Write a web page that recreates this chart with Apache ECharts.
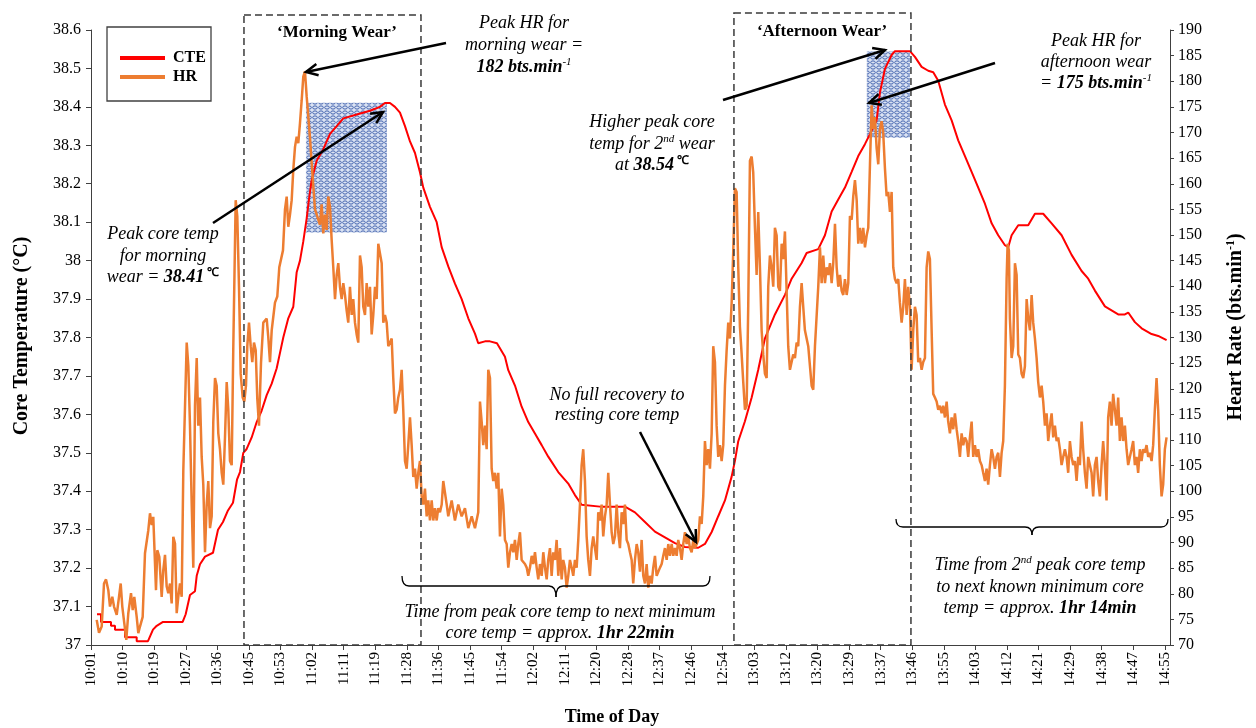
<!DOCTYPE html>
<html><head><meta charset="utf-8">
<script src="https://cdn.jsdelivr.net/npm/echarts@6/dist/echarts.min.js"></script>
<style>html,body{margin:0;padding:0;background:#fff}#c{width:1256px;height:728px}</style>
</head><body><div id="c"></div>
<script>
// ---------- DATA ----------
const tickLabels = ['10:01','10:10','10:19','10:27','10:36','10:45','10:53','11:02','11:11','11:19','11:28','11:36','11:45','11:54','12:02','12:11','12:20','12:28','12:37','12:46','12:54','13:03','13:12','13:20','13:29','13:37','13:46','13:55','14:03','14:12','14:21','14:29','14:38','14:47','14:55'];
// time in minutes after 10:01
const cteTime = [1.64,2.74,2.74,5.47,5.47,6.57,6.57,9.31,9.31,12.51,12.51,15.6,16.97,17.99,19.71,25.1,25.92,27.1,28.47,28.94,29.84,31.21,33.4,34.77,36.13,37.5,38.87,39.97,40.79,41.69,42.62,43.99,45.36,46.73,48.1,49.47,50.84,51.74,52.64,54.01,55.38,56.31,57.21,58.12,59.05,59.68,60.42,61.79,63.59,65.43,67.26,69.07,72.74,76.38,79.11,80.48,81.85,83.22,84.59,85.96,87.33,88.7,90.06,90.97,92.8,94.64,96.0,97.81,99.64,101.48,103.29,105.12,106.02,107.86,109.23,111.14,113.33,114.24,116.07,117.9,119.71,121.54,123.38,125.18,127.92,130.66,132.49,134.33,139.34,146.18,148.92,151.66,154.39,157.13,159.87,162.61,166.25,168.08,169.92,171.72,173.56,175.39,176.29,177.2,179.03,180.87,182.67,184.51,187.24,189.98,191.82,194.55,195.92,199.1,200.93,202.77,204.57,206.41,208.24,210.05,211.88,213.25,215.08,215.99,217.36,219.19,220.09,224.2,225.57,227.4,229.21,230.58,231.95,233.78,235.62,237.42,239.26,241.09,242.9,244.73,246.57,248.37,250.21,251.11,252.04,253.85,256.58,258.42,260.69,262.99,265.73,268.46,271.2,273.01,274.84,277.58,281.22,283.05,283.96,285.79,287.63,290.36,292.17,294.47];
const cteValue = [37.08,37.08,37.06,37.06,37.05,37.05,37.04,37.04,37.02,37.02,37.01,37.01,37.04,37.05,37.06,37.06,37.08,37.13,37.14,37.18,37.21,37.23,37.24,37.30,37.32,37.35,37.37,37.43,37.45,37.50,37.51,37.54,37.58,37.61,37.65,37.68,37.72,37.76,37.80,37.85,37.88,37.97,38.00,38.05,38.11,38.16,38.21,38.26,38.29,38.33,38.35,38.37,38.38,38.39,38.40,38.41,38.41,38.40,38.385,38.35,38.31,38.28,38.23,38.19,38.14,38.10,38.035,37.985,37.94,37.90,37.85,37.81,37.785,37.79,37.79,37.785,37.75,37.715,37.675,37.62,37.58,37.55,37.52,37.49,37.45,37.42,37.39,37.365,37.36,37.36,37.345,37.32,37.295,37.28,37.265,37.255,37.253,37.263,37.294,37.335,37.376,37.438,37.479,37.53,37.582,37.644,37.716,37.798,37.86,37.911,37.953,37.994,38.02,38.03,38.066,38.128,38.159,38.19,38.231,38.272,38.303,38.329,38.365,38.437,38.499,38.535,38.545,38.545,38.53,38.504,38.494,38.49,38.468,38.406,38.365,38.313,38.272,38.231,38.19,38.148,38.097,38.066,38.04,38.035,38.066,38.092,38.092,38.122,38.122,38.097,38.066,38.015,37.973,37.953,37.922,37.881,37.86,37.86,37.865,37.84,37.824,37.809,37.804,37.793];
const hrTime = [1.56,2.19,2.93,3.56,4.11,4.74,5.20,5.83,6.30,7.04,7.67,8.13,8.57,9.12,9.66,10.21,10.95,11.42,11.85,12.51,12.95,13.41,14.15,14.78,15.25,15.69,16.15,16.62,17.05,17.79,18.15,18.70,19.35,19.79,20.26,20.72,21.16,21.63,22.09,22.53,23.00,23.46,23.90,24.36,24.83,25.27,
26.20,26.65,27.10,27.57,28.01,28.47,28.94,29.37,29.84,30.30,30.74,31.21,31.67,32.11,32.58,33.04,33.48,33.95,34.41,34.85,35.31,35.78,36.22,36.68,37.15,37.59,38.05,38.52,38.96,39.61,40.05,40.52,40.98,41.53,41.97,42.43,42.79,43.25,43.72,44.16,44.62,45.09,45.53,45.99,46.54,47.17,48.10,48.54,49.00,49.47,49.90,50.37,51.00,51.55,52.01,52.56,53.11,53.57,54.01,54.48,54.94,55.38,55.85,56.31,56.75,57.21,57.68,58.12,58.58,59.05,59.49,59.95,60.42,60.85,61.32,61.79,62.22,62.69,63.15,63.59,64.06,64.52,64.96,65.43,65.89,66.33,66.80,67.26,67.70,68.16,68.63,69.07,69.53,70.00,70.43,70.90,71.37,71.80,72.27,72.73,73.17,73.64,74.10,74.54,75.01,75.47,75.91,76.38,76.84,77.28,77.75,78.21,78.65,79.11,79.58,80.02,80.48,80.95,81.39,81.85,82.32,82.75,83.22,83.68,84.12,84.59,85.05,85.49,85.96,86.42,86.86,87.33,87.79,88.23,88.70,89.16,89.60,90.06,90.53,90.97,91.43,91.90,92.34,92.80,93.27,93.71,94.17,94.64,95.07,95.54,96.01,96.44,96.91,97.38,97.81,
98.74,99.64,100.55,101.48,102.38,103.29,104.22,105.12,106.02,106.49,106.95,107.39,107.86,108.32,108.76,109.23,109.69,110.13,110.60,111.06,111.50,111.96,112.43,112.87,113.33,113.80,114.24,114.70,115.17,115.60,116.07,116.54,116.97,117.44,117.90,118.81,119.28,119.71,120.18,120.65,121.08,121.55,122.01,122.45,122.91,123.38,123.82,124.28,124.75,125.18,125.65,126.11,126.55,127.02,127.48,127.92,128.39,128.85,129.29,129.75,130.22,130.66,131.12,131.59,132.03,132.49,132.96,133.40,133.86,134.32,134.76,135.23,135.69,136.13,136.60,137.06,137.50,137.97,138.43,138.87,139.34,139.80,140.24,140.71,141.17,141.61,142.08,142.54,142.98,143.45,143.91,144.35,144.81,145.28,145.72,146.18,146.65,147.09,147.55,148.02,148.45,148.92,149.39,149.82,150.29,150.75,151.19,151.66,152.12,152.56,153.03,153.49,153.93,154.40,154.86,155.30,155.77,156.23,156.67,157.13,157.60,158.04,158.50,158.97,159.41,159.87,160.34,160.77,161.24,161.70,162.14,162.61,163.07,163.51,163.98,164.44,164.88,165.35,165.81,166.25,166.71,167.18,167.62,168.08,168.55,168.99,169.45,169.92,170.35,170.82,171.28,171.72,172.19,172.65,173.09,173.56,174.02,174.46,174.93,175.39,175.83,176.29,176.76,177.20,177.66,178.13,178.57,179.03,179.50,179.93,180.40,180.87,181.30,181.77,182.23,182.67,183.14,183.60,184.04,184.51,184.97,185.41,185.87,186.34,186.78,187.24,187.71,188.15,188.61,189.08,189.51,189.98,190.44,190.88,191.35,191.81,192.25,192.72,193.18,193.62,194.09,194.55,194.99,195.45,
196.36,197.29,197.73,198.20,199.10,199.57,200.03,200.47,200.94,201.40,201.84,202.31,202.77,203.21,203.68,204.14,204.58,205.05,205.51,205.95,206.41,206.88,207.32,207.78,208.25,208.69,209.15,209.62,210.05,210.52,210.98,211.42,211.89,212.35,212.79,213.26,213.72,214.16,214.62,215.09,215.53,215.99,216.46,216.89,217.36,217.82,218.26,218.73,219.19,219.63,220.10,220.56,221.00,221.46,221.93,222.37,222.83,223.30,223.73,224.20,224.66,225.10,225.57,226.03,226.47,226.94,227.40,227.84,228.31,228.77,229.21,229.67,230.14,230.58,231.04,231.51,231.95,232.41,232.88,233.31,233.78,234.25,234.68,235.15,235.61,236.05,236.52,236.98,237.42,237.89,238.35,238.79,239.26,239.72,240.16,240.62,241.09,241.53,241.99,242.46,242.89,243.36,243.83,244.26,244.73,245.19,245.63,246.10,246.56,247.00,247.47,247.93,248.37,248.84,249.30,249.74,250.20,250.67,250.94,251.30,251.57,252.04,252.48,252.95,253.41,253.85,254.31,254.78,255.22,255.68,256.15,256.59,257.05,257.52,257.95,258.42,258.88,259.32,259.79,260.25,260.69,261.16,261.62,262.06,262.52,262.99,263.43,263.89,264.36,264.79,265.26,265.72,266.16,266.63,267.09,267.53,268.00,268.46,268.90,269.36,269.83,270.27,270.73,271.20,271.63,272.10,272.56,273.00,273.47,273.93,274.37,274.83,275.30,275.74,276.20,276.67,277.10,277.57,278.03,278.47,278.94,279.40,279.84,280.31,280.77,281.21,281.68,282.14,282.58,283.05,283.51,283.95,284.41,284.88,285.32,285.78,286.25,286.68,287.15,287.61,288.05,288.52,288.98,289.42,289.89,290.35,290.79,291.25,291.72,292.16,292.62,293.09,293.53,293.99,294.46];
const hrValue = [74.9,72.4,73.6,82.0,82.8,80.7,77.5,79.4,77.5,75.9,79.4,82.0,77.5,74.2,71.0,76.2,80.1,76.8,79.4,75.5,72.3,73.6,75.5,87.9,87.9,92.4,95.7,93.4,95.0,80.7,88.5,87.2,79.4,84.6,87.6,81.4,80.1,82.0,78.1,91.1,89.8,76.2,79.4,82.0,79.4,104,
129.0,124.4,112.8,97.4,85.1,116.7,126.0,112.8,118.3,106.7,101.3,88.1,97.4,102.0,92.8,95.1,113.6,122.1,120.6,111.3,108.2,103.6,101.3,110.5,121.3,115.9,105.9,105.1,128.3,156.8,153.7,139.9,122.9,118.3,117.5,120.6,128.3,132.9,128.3,125.2,129.0,127.5,118,112.8,125,132.9,133.7,130,125.2,131.4,134,136.8,138,143.7,144,147,155,157.5,151.6,154,156.8,162.7,167.2,169.2,167.9,171.8,176.3,180.9,181.9,177,173.1,169,164,159.6,155,154,153,152,156,150.3,154,151,157.5,155.5,149,143.7,137.5,142.2,144.5,139.9,137.5,140.6,138.3,135.2,132.9,139.9,134.4,137.5,132.9,130.6,129.0,146.0,143.7,136.0,134.4,140.6,136.0,139.9,130.6,134.4,139.9,137.5,148.3,148.3,144.5,132.9,134.4,132.9,128.3,129.0,129.8,122.1,115.2,115.9,118.3,119.8,123.7,115.9,105.9,104.4,109.0,114.4,109.0,102.8,104.4,100.5,103.6,105.9,99.0,97.4,100.5,95.1,98.2,94.3,98.2,94.3,96.7,94.3,96.7,95.9,97.4,102.0,99.7,97.4,95.1,
98.2,94.3,97.4,95.1,96.7,92.8,95.1,92.8,95.9,117.5,113.6,109.0,112.8,108.2,123.7,122.1,104.4,102.0,103.6,100.5,103.6,91.2,100.5,97.4,90.5,89.7,85.1,88.1,89.7,88.1,90.5,86.6,89.7,92.0,86.6,85.8,85.1,83.5,85.1,87.4,85.8,88.1,85.1,82.8,85.8,83.5,88.1,85.1,82.8,86.6,88.9,83.5,88.1,86.6,90.5,83.5,88.9,82.8,86.6,85.1,81.2,83.5,86.6,85.1,83.5,86.6,85.1,90.5,97.4,105.1,108.2,102.0,91.2,86.6,83.5,88.9,91.2,88.9,86.6,95.9,94.3,97.4,91.2,95.1,97.4,103.6,97.4,92.0,89.7,91.2,97.4,92.0,88.9,95.9,93.6,97.4,90.5,89.7,88.1,86.6,82.0,86.6,89.7,88.1,84.3,90.5,83.5,82.0,85.8,81.2,83.5,82.0,85.1,87.4,83.5,84.3,85.1,85.8,87.4,88.9,86.6,89.7,87.4,89.7,87.4,88.9,87.4,90.5,88.9,86.6,89.7,92.0,89.7,91.2,88.9,88.1,90.5,88.9,89.7,90.5,95.1,93.6,99.0,109.8,105.1,108.2,104.4,111.3,128.3,125.2,112.8,106.7,109.0,105.9,109.0,120.6,127.5,132.9,129.8,136.8,146.8,159.1,158.4,143.7,132.1,126.7,121.3,115.9,116.7,136.0,164.5,165.3,162.2,151.4,142.2,154.5,143.7,131.4,126.7,122.9,122.1,139.9,146.0,143.7,139.9,151.4,149.9,139.9,139.1,148.3,145.3,150.7,139.1,128.3,123.7,125.2,126.7,126.0,129.0,128.3,136.0,140.6,136.0,131.4,
128.3,120.6,119.8,128.3,139.9,147.6,140.6,146.0,140.6,143.7,142.2,144.5,140.6,144.5,152.2,143.7,139.9,142.2,139.1,138.3,141.4,138.3,140.6,153.7,153.0,157.6,160.7,156.8,148.3,151.4,148.3,151.4,147.6,149.9,151.4,163.8,175.3,170.7,173.0,166.9,163.8,170.7,172.2,169.9,163.0,157.6,158.4,154.5,158.4,143.7,141.4,140.6,141.4,136.8,132.9,136.0,141.4,134.4,139.9,136.0,123.7,131.4,136.0,134.4,125.2,126.0,123.7,125.2,126.0,143.7,146.8,145.3,131.4,119.0,118.3,117.5,115.9,116.7,115.2,116.7,114.4,117.5,113.6,111.3,114.4,112.1,115.2,112.1,109.8,106.7,111.3,109.0,110.5,109.8,106.7,110.5,113.6,106.7,109.0,106.7,108.2,105.9,105.1,103.6,102.0,104.4,101.3,105.1,108.2,106.7,104.4,106.7,107.5,102.8,107.5,109.8,120.6,141.4,148.3,147,133.7,126.0,128.3,144.5,142.2,126.7,126.0,122.9,122.1,124.4,137.5,133.7,131.4,138.3,132.9,129.8,126.0,121.3,118.3,120.6,117.5,112.8,115.2,109.8,112.8,115.2,110.5,112.8,109.8,110.5,108.2,105.1,106.7,108.2,106.7,103.6,109.8,106.7,105.1,105.9,102.0,106.7,105.1,113.6,108.2,103.6,100.5,106.7,105.1,103.6,99.0,105.1,106.7,102.0,99.0,105.1,109.8,105.1,98.2,114.4,117.5,112.8,119.0,115.9,112.8,118.3,109.8,114.4,109.8,112.8,108.2,105.1,106.7,108.2,109.8,105.1,106.7,103.6,108.2,105.9,108.2,107.5,109.0,106.7,107.5,105.9,109.0,115.9,122.1,115.9,105.1,99.0,101.3,108.2,110.5];
// wear periods (minutes after 10:01) and shaded peak zones
const wearMorning = [41.88, 90.34];
const wearAfternoon = [176.02, 224.48];
const zoneMorning = {t:[58.85, 81.03], cte:[38.073, 38.411]};
const zoneAfternoon = {t:[212.4, 224.2], cte:[38.32, 38.544]};

// ---------- CHART ----------
const xStep = 294 / 34;
const FONT = '"Liberation Serif","Times New Roman",serif';
const zip = (a, b) => a.map((t, i) => [t, b[i]]);
const chart = echarts.init(document.getElementById('c'));
const axisCol = '#404040';
chart.setOption({
  animation: false,
  backgroundColor: '#ffffff',
  grid: {left: 91, right: 86, top: 30, bottom: 83},
  xAxis: {
    type: 'value', min: 0, max: 295.4, interval: xStep,
    axisLine: {show: true, lineStyle: {color: axisCol, width: 1}},
    axisTick: {show: true, length: 5, lineStyle: {color: axisCol}},
    splitLine: {show: false},
    axisLabel: {rotate: 90, fontFamily: FONT, fontSize: 15, color: '#000', margin: 7, showMaxLabel: false,
      formatter: v => { const i = Math.round(v / xStep); return (Math.abs(v - i * xStep) < 0.05 && tickLabels[i]) ? tickLabels[i] : ''; }}
  },
  yAxis: [
    {type: 'value', min: 37, max: 38.6, interval: 0.1, position: 'left',
     axisLine: {show: true, lineStyle: {color: axisCol}}, axisTick: {show: true, length: 5, lineStyle: {color: axisCol}},
     splitLine: {show: false}, axisLabel: {fontFamily: FONT, fontSize: 16, color: '#000', margin: 10}},
    {type: 'value', min: 70, max: 190, interval: 5, position: 'right',
     axisLine: {show: true, lineStyle: {color: axisCol}}, axisTick: {show: true, length: 4, lineStyle: {color: axisCol}},
     splitLine: {show: false}, axisLabel: {fontFamily: FONT, fontSize: 16, color: '#000', margin: 8}}
  ],
  series: [
    {type: 'line', name: 'CTE', yAxisIndex: 0, data: zip(cteTime, cteValue), symbol: 'none', z: 3,
     lineStyle: {color: '#FF0000', width: 2}, itemStyle: {color: '#FF0000'}},
    {type: 'line', name: 'HR', yAxisIndex: 1, data: zip(hrTime, hrValue), symbol: 'none', z: 4,
     lineStyle: {color: '#ED7D31', width: 2.5}, itemStyle: {color: '#ED7D31'}}
  ]
});

// ---------- ANNOTATIONS ----------
const px = (t, v, yi) => chart.convertToPixel({xAxisIndex: 0, yAxisIndex: yi || 0}, [t, v]);
function makePattern() {
  const c = document.createElement('canvas'); c.width = 6; c.height = 5;
  const g = c.getContext('2d');
  g.fillStyle = '#dbe3f3'; g.fillRect(0, 0, 6, 5);
  g.strokeStyle = '#3f60ad'; g.lineWidth = 1;
  g.beginPath(); g.ellipse(3, 2.5, 2.3, 1.6, 0, 0, Math.PI * 2); g.stroke();
  return c;
}
const pattern = {image: makePattern(), repeat: 'repeat'};
function zoneRect(z) {
  const a = px(z.t[0], z.cte[1]), b = px(z.t[1], z.cte[0]);
  return {type: 'rect', z: 1, shape: {x: a[0], y: a[1], width: b[0] - a[0], height: b[1] - a[1]}, style: {fill: pattern}};
}
function wearBox(w, top) {
  const a = px(w[0], 37), b = px(w[1], 37);
  return {type: 'rect', z: 5, shape: {x: a[0], y: top, width: b[0] - a[0], height: a[1] - top},
    style: {fill: null, stroke: '#3a3a3a', lineWidth: 1.5, lineDash: [7, 4]}};
}
function arrow(x1, y1, x2, y2) {
  const a = Math.atan2(y2 - y1, x2 - x1), L = 13, w = 0.45;
  const p1 = [x2 - L * Math.cos(a - w), y2 - L * Math.sin(a - w)];
  const p2 = [x2 - L * Math.cos(a + w), y2 - L * Math.sin(a + w)];
  return [
    {type: 'line', z: 20, shape: {x1, y1, x2, y2}, style: {stroke: '#000', lineWidth: 2.5}},
    {type: 'polyline', z: 20, shape: {points: [p1, [x2, y2], p2]}, style: {stroke: '#000', lineWidth: 2.5, fill: null}}
  ];
}
function brace(xl, xm, xr, y, up, down) {
  const st = {fill: null, stroke: '#000', lineWidth: 1.3};
  const r = 7;
  const q = (x1, y1, x2, y2, cx, cy) => ({type: 'bezierCurve', z: 20, shape: {x1, y1, x2, y2, cpx1: cx, cpy1: cy}, style: st});
  return [
    q(xl, y - up, xl + r, y, xl, y),
    {type: 'line', z: 20, shape: {x1: xl + r, y1: y, x2: xm - r, y2: y}, style: st},
    q(xm - r, y, xm, y + down, xm, y),
    q(xm, y + down, xm + r, y, xm, y),
    {type: 'line', z: 20, shape: {x1: xm + r, y1: y, x2: xr - r, y2: y}, style: st},
    q(xr - r, y, xr, y - up, xr, y)
  ];
}
const rich = {
  i: {fontFamily: FONT, fontStyle: 'italic', fontSize: 18, lineHeight: 20, color: '#111'},
  b: {fontFamily: FONT, fontStyle: 'italic', fontWeight: 'bold', fontSize: 18, lineHeight: 20, color: '#111'},
  s: {fontFamily: FONT, fontStyle: 'italic', fontSize: 11, lineHeight: 20, verticalAlign: 'top', color: '#111'},
  sb: {fontFamily: FONT, fontWeight: 'bold', fontSize: 12, lineHeight: 20, verticalAlign: 'top', color: '#111'},
  n: {fontFamily: FONT, fontWeight: 'bold', fontSize: 18, lineHeight: 20, color: '#000'},
  t: {fontFamily: FONT, fontWeight: 'bold', fontSize: 20, lineHeight: 22, color: '#000'},
  ts: {fontFamily: FONT, fontWeight: 'bold', fontSize: 12, lineHeight: 22, verticalAlign: 'top', color: '#000'},
  w: {fontFamily: FONT, fontWeight: 'bold', fontSize: 17, lineHeight: 20, color: '#000'},
  l: {fontFamily: FONT, fontWeight: 'bold', fontSize: 16, lineHeight: 20, color: '#000'}
};
function txt(x, y, parts, opts, align) {
  const s = parts.map(p => '{' + p[1] + '|' + p[0] + '}').join('');
  return Object.assign({type: 'text', z: 20, x, y, style: {text: s, rich, align: align || 'center', verticalAlign: 'middle'}}, opts || {});
}
const graphics = [
  zoneRect(zoneMorning), zoneRect(zoneAfternoon),
  wearBox(wearMorning, 15), wearBox(wearAfternoon, 13),
  // legend
  {type: 'rect', z: 20, shape: {x: 107, y: 27, width: 104, height: 74}, style: {fill: '#fff', stroke: '#404040', lineWidth: 1.3}},
  {type: 'line', z: 21, shape: {x1: 120, y1: 58, x2: 165, y2: 58}, style: {stroke: '#FF0000', lineWidth: 4}},
  {type: 'line', z: 21, shape: {x1: 120, y1: 77, x2: 165, y2: 77}, style: {stroke: '#ED7D31', lineWidth: 4}},
  txt(173, 58, [['CTE', 'l']], {z: 21}, 'left'),
  txt(173, 77, [['HR', 'l']], {z: 21}, 'left'),
  // box titles
  txt(337, 33, [['\u2018Morning Wear\u2019', 'w']]),
  txt(822, 32, [['\u2018Afternoon Wear\u2019', 'w']]),
  // axis titles
  txt(22, 336, [['Core Temperature (\u00b0C)', 't']], {rotation: Math.PI / 2}),
  txt(1236, 327, [['Heart Rate (bts.min', 't'], ['-1', 'ts'], [')', 't']], {rotation: Math.PI / 2}),
  txt(612, 717, [['Time of Day', 'n']]),
  // annotations
  txt(524, 23, [['Peak HR for', 'i']]),
  txt(524, 45, [['morning wear =', 'i']]),
  txt(524, 67, [['182 bts.min', 'b'], ['-1', 's']]),
  txt(163, 234, [['Peak core temp', 'i']]),
  txt(163, 256, [['for morning', 'i']]),
  txt(163, 277, [['wear = ', 'i'], ['38.41', 'b'], [' \u2103', 'sb']]),
  txt(652, 122, [['Higher peak core', 'i']]),
  txt(652, 144, [['temp for 2', 'i'], ['nd', 's'], [' wear', 'i']]),
  txt(652, 165, [['at ', 'i'], ['38.54', 'b'], [' \u2103', 'sb']]),
  txt(1096, 41, [['Peak HR for', 'i']]),
  txt(1096, 62, [['afternoon wear', 'i']]),
  txt(1096, 83, [['= ', 'i'], ['175 bts.min', 'b'], ['-1', 's']]),
  txt(617, 395, [['No full recovery to', 'i']]),
  txt(617, 415, [['resting core temp', 'i']]),
  txt(560, 612, [['Time from peak core temp to next minimum', 'i']]),
  txt(560, 633, [['core temp = approx. ', 'i'], ['1hr 22min', 'b']]),
  txt(1040, 565, [['Time from 2', 'i'], ['nd', 's'], [' peak core temp', 'i']]),
  txt(1040, 587, [['to next known minimum core', 'i']]),
  txt(1040, 608, [['temp = approx. ', 'i'], ['1hr 14min', 'b']])
].concat(
  brace(402, 556, 710, 586, 10, 11),
  brace(896, 1032, 1168, 527, 8, 8),
  arrow(446, 43, 306, 72),
  arrow(213, 223, 383, 112),
  arrow(723, 100, 885, 50),
  arrow(995, 63, 869, 103),
  arrow(640, 432, 696, 542)
);
chart.setOption({graphic: {elements: graphics}});
</script></body></html>
